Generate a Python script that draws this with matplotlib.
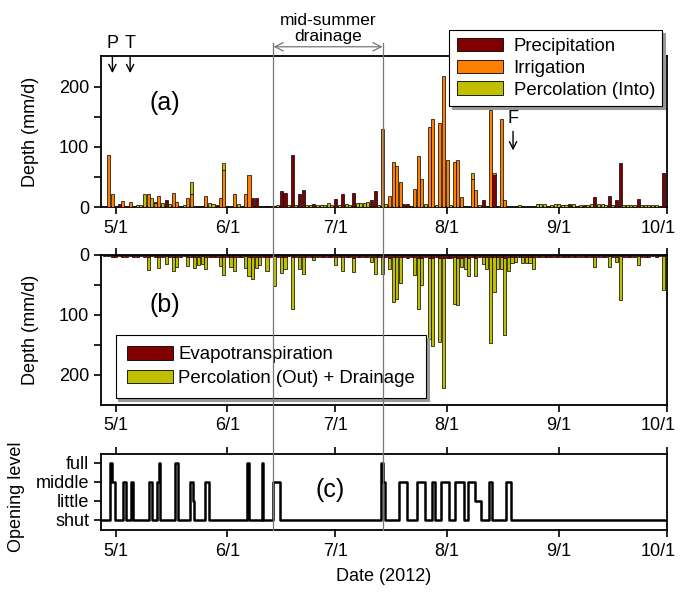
import matplotlib
matplotlib.use("Agg")
import matplotlib.pyplot as plt
import matplotlib.dates as mdates
import matplotlib.transforms as mtransforms
from matplotlib.lines import Line2D
from matplotlib.patches import Patch, FancyArrowPatch
from matplotlib.ticker import FixedLocator, FuncFormatter
import pandas as pd

plt.rcParams["font.family"] = ["Liberation Sans", "DejaVu Sans"]
plt.rcParams["font.size"] = 13

# ---- data ---------------------------------------------------------------
first_day, last_day = "2012-04-28", "2012-09-30"

# panel (a) inputs, mm/d (days not listed are 0)
precipitation = {
    "5/2": 5, "5/15": 12, "5/25": 1, "5/29": 4, "6/8": 15, "6/9": 15, "6/12": 1,
    "6/16": 27, "6/17": 24, "6/19": 86, "6/21": 21, "6/22": 29, "6/25": 5,
    "7/1": 14, "7/3": 21, "7/6": 24, "7/11": 11, "7/12": 27, "7/20": 5, "7/21": 5,
    "8/11": 11, "8/14": 53, "9/4": 5, "9/8": 4, "9/11": 17, "9/15": 18,
    "9/17": 11, "9/18": 73, "9/23": 14, "9/30": 56,
}
irrigation = {
    "4/29": 86, "4/30": 22, "5/3": 10, "5/5": 9, "5/10": 21, "5/12": 6, "5/13": 18,
    "5/17": 23, "5/18": 9, "5/21": 15, "5/22": 22, "5/26": 19, "5/30": 15,
    "5/31": 62, "6/3": 22, "6/6": 21, "6/7": 54, "7/14": 129, "7/16": 19,
    "7/17": 75, "7/18": 69, "7/19": 42, "7/23": 30, "7/24": 85, "7/25": 46,
    "7/27": 133, "7/28": 146, "7/30": 140, "7/31": 218, "8/1": 79, "8/3": 75,
    "8/4": 79, "8/5": 17, "8/8": 47, "8/9": 29, "8/13": 162, "8/14": 4,
    "8/16": 147, "8/17": 12,
}
percolation_in = {
    "5/7": 3, "5/8": 4, "5/9": 22, "5/11": 15, "5/12": 3, "5/14": 6, "5/16": 5,
    "5/20": 3, "5/22": 20, "5/27": 7, "5/28": 5, "5/31": 12, "6/4": 5, "6/13": 2,
    "6/15": 3, "6/18": 3, "6/20": 3, "6/23": 4, "6/24": 3, "6/26": 3, "6/27": 4,
    "6/28": 3, "6/29": 7, "6/30": 3, "7/2": 4, "7/4": 5, "7/5": 3, "7/7": 6,
    "7/8": 6, "7/9": 6, "7/10": 8, "7/13": 3, "7/15": 5, "7/22": 2, "7/26": 5,
    "7/29": 4, "8/2": 4, "8/8": 9, "8/10": 3, "8/21": 4, "8/26": 5, "8/27": 5,
    "8/28": 5, "8/29": 2, "8/30": 4, "8/31": 5, "9/1": 5, "9/2": 3, "9/3": 4,
    "9/5": 5, "9/6": 2, "9/7": 4, "9/9": 3, "9/10": 5, "9/12": 5, "9/13": 5,
    "9/14": 3, "9/16": 3, "9/19": 4, "9/20": 4, "9/21": 4, "9/22": 3, "9/24": 4,
    "9/25": 4, "9/26": 4, "9/27": 4, "9/28": 4, "9/29": 2,
}

# panel (b) outputs, mm/d
evapotranspiration = [
    2, 2, 3,
    3, 2, 3, 3, 2, 3, 3, 2, 3, 3, 2, 3, 3, 3, 2, 3, 3, 3, 3, 2, 3, 3, 3, 3, 2, 3, 3, 4, 3, 3, 3,
    3, 3, 4, 3, 3, 2, 3, 4, 4, 3, 4, 4, 3, 2, 4, 3, 3, 2, 4, 4, 3, 3, 4, 4, 3, 4, 4, 4, 3, 4,
    4, 4, 4, 3, 4, 5, 4, 4, 4, 4, 3, 4, 4, 4, 4, 5, 4, 4, 4, 4, 5, 4, 4, 5, 5, 4, 5, 5, 4, 5, 5,
    5, 5, 4, 5, 5, 4, 5, 4, 5, 4, 4, 4, 4, 4, 4, 4, 5, 4, 4, 4, 4, 4, 4, 4, 4, 4, 3, 4, 4, 3, 4,
    3, 4, 3, 3, 4, 3, 3, 3, 3, 3, 3, 3, 3, 3, 2, 3, 3, 2, 3, 3, 3, 3, 2, 3, 3, 3, 2, 3, 2, 2,
]
percolation_out = {
    "5/10": 22, "5/13": 18, "5/15": 13, "5/17": 24, "5/18": 17, "5/21": 15,
    "5/23": 19, "5/24": 14, "5/25": 13, "5/26": 21, "5/30": 15, "5/31": 30,
    "6/2": 17, "6/3": 22, "6/6": 19, "6/7": 33, "6/8": 36, "6/9": 18, "6/10": 14,
    "6/12": 22, "6/14": 50, "6/16": 27, "6/17": 21, "6/19": 86, "6/21": 20,
    "6/22": 29, "6/25": 5, "7/1": 13, "7/3": 22, "7/6": 24, "7/11": 9, "7/12": 28,
    "7/14": 28, "7/16": 19, "7/17": 75, "7/18": 70, "7/19": 43, "7/23": 30,
    "7/24": 86, "7/25": 46, "7/27": 135, "7/28": 147, "7/30": 140, "7/31": 218,
    "8/3": 78, "8/4": 79, "8/5": 15, "8/6": 19, "8/7": 30, "8/9": 30, "8/11": 11,
    "8/12": 19, "8/13": 143, "8/14": 58, "8/15": 19, "8/16": 19, "8/17": 129,
    "8/18": 22, "8/19": 9, "8/20": 7, "8/22": 9, "8/23": 9, "8/24": 9, "8/25": 19,
    "9/11": 17, "9/15": 18, "9/17": 9, "9/18": 74, "9/23": 14, "9/30": 57,
}

# panel (c) gate opening (0 shut, 1 little, 2 middle, 3 full), step changes
gate_times = [
    "04-26 00", "04-29 10", "04-30 02", "04-30 19", "05-03 02", "05-03 19",
    "05-05 06", "05-05 22", "05-10 07", "05-11 00", "05-12 10", "05-12 22",
    "05-13 10", "05-17 12", "05-18 05", "05-21 14", "05-22 10", "05-22 19",
    "05-25 19", "05-26 19", "06-06 10", "06-07 00", "06-10 12", "06-11 00",
    "06-13 14", "06-15 12", "07-13 17", "07-14 02", "07-14 19",
    "07-18 12", "07-20 19", "07-23 14", "07-25 22", "07-27 19", "07-28 17",
    "07-30 10", "08-01 14", "08-03 05", "08-05 14", "08-06 19", "08-08 19",
    "08-10 12", "08-12 12", "08-13 14", "08-17 07", "08-18 19", "10-02 00",
]
gate_levels = [
    0, 3, 2, 0, 2, 0,
    2, 0, 2, 0, 2, 3,
    0, 3, 0, 2, 1, 0,
    2, 0, 3, 0, 3, 0,
    2, 0, 3, 2, 0,
    2, 0, 2, 0, 2, 0,
    2, 0, 2, 0, 2, 1,
    0, 2, 0, 2, 0, 0,
]
level_names = ["shut", "little", "middle", "full"]

month_ticks = ["2012-05-01", "2012-06-01", "2012-07-01", "2012-08-01",
               "2012-09-01", "2012-10-01"]
drainage = ("2012-06-13 19:00", "2012-07-14 02:00")
events = [("P", "2012-04-30 02:00"), ("T", "2012-05-05 00:00")]
event_f = ("F", "2012-08-19 07:00")

c_prec, c_irr, c_perc = "#800000", "#FF8000", "#BFBF00"

# ---- helpers ------------------------------------------------------------
days = pd.date_range(first_day, last_day, freq="D")
x_left, x_right = pd.Timestamp("2012-04-26 22:00"), pd.Timestamp("2012-10-01")


def daily(values):
    s = pd.Series(0.0, index=days)
    for key, v in values.items():
        m, d = key.split("/")
        s[pd.Timestamp(2012, int(m), int(d))] = v
    return s


def bars(ax, values, bottom, color):
    keep = values > 0
    ax.bar(days[keep], values[keep], bottom=bottom[keep], width=0.85,
           color=color, edgecolor="black", linewidth=0.5, zorder=3)


def style_xaxis(ax, top=False):
    ax.xaxis.set_major_locator(FixedLocator(mdates.date2num(pd.to_datetime(month_ticks))))
    ax.xaxis.set_major_formatter(FuncFormatter(
        lambda x, _: f"{mdates.num2date(x).month}/{mdates.num2date(x).day}"))
    ax.tick_params(axis="x", direction="out", length=5, width=1.2, top=top,
                   labelsize=13, pad=4)
    ax.set_xlim(x_left, x_right)
    for s in ax.spines.values():
        s.set_linewidth(1.3)
    # keep the last label ("10/1") inside the figure
    last = ax.xaxis.get_major_ticks()[-1].label1
    last.set_transform(last.get_transform()
                       + mtransforms.ScaledTranslation(-6 / 72, 0, fig.dpi_scale_trans))


def legend(ax, colors, labels, **kw):
    leg = ax.legend(handles=[Patch(facecolor=c, edgecolor="black", linewidth=0.6)
                             for c in colors],
                    labels=labels, fontsize=13.4, frameon=True, fancybox=False,
                    edgecolor="black", framealpha=1, handlelength=2.5,
                    handleheight=0.75, borderaxespad=0,
                    shadow={"color": "0.6", "alpha": 1}, **kw)
    leg.get_frame().set_linewidth(0.8)
    return leg


fig = plt.figure(figsize=(6.81, 5.92), dpi=100)
ax_a = fig.add_axes([0.1483, 0.6503, 0.831, 0.255])
ax_b = fig.add_axes([0.1483, 0.3159, 0.831, 0.2534])
ax_c = fig.add_axes([0.1483, 0.1047, 0.831, 0.1284])

# ---- panel (a) ----------------------------------------------------------
p = daily(precipitation)
irr = daily(irrigation)
pin = daily(percolation_in)
zero = pd.Series(0.0, index=days)
bars(ax_a, p, zero, c_prec)
bars(ax_a, irr, p, c_irr)
bars(ax_a, pin, p + irr, c_perc)
ax_a.set_ylim(0, 251)
ax_a.set_yticks([0, 100, 200])
ax_a.set_yticks([50, 150], minor=True)
ax_a.tick_params(axis="y", which="both", direction="out", length=5, width=1.2,
                 labelsize=13)
style_xaxis(ax_a)
ax_a.set_ylabel("Depth (mm/d)", fontsize=13)
ax_a.yaxis.set_label_coords(-0.110, 0.5)
ax_a.text(0.113, 0.69, "(a)", transform=ax_a.transAxes, fontsize=18,
          ha="center", va="center")
legend(ax_a, (c_prec, c_irr, c_perc),
       ["Precipitation", "Irrigation", "Percolation (Into)"],
       loc="upper right", bbox_to_anchor=(0.992, 1.172), labelspacing=0.25,
       borderpad=0.4, handletextpad=0.55)

for name, t in events:
    ax_a.annotate(name, xy=(pd.Timestamp(t), 0.887), xytext=(pd.Timestamp(t), 1.08),
                  xycoords=("data", "axes fraction"), textcoords=("data", "axes fraction"),
                  ha="center", va="center", fontsize=13, annotation_clip=False,
                  arrowprops=dict(arrowstyle="->", lw=1.0, color="black",
                                  shrinkA=1, shrinkB=0))
ax_a.annotate(event_f[0], xy=(pd.Timestamp(event_f[1]), 0.375),
              xytext=(pd.Timestamp(event_f[1]), 0.585),
              xycoords=("data", "axes fraction"), textcoords=("data", "axes fraction"),
              ha="center", va="center", fontsize=13,
              arrowprops=dict(arrowstyle="->", lw=1.0, color="black",
                              shrinkA=1, shrinkB=0))

# ---- panel (b) ----------------------------------------------------------
et = pd.Series(evapotranspiration, index=days, dtype=float)
pout = daily(percolation_out)
bars(ax_b, et, zero, c_prec)
bars(ax_b, pout, et, c_perc)
ax_b.set_ylim(251, 0)
ax_b.set_yticks([0, 100, 200])
ax_b.set_yticks([50, 150], minor=True)
ax_b.tick_params(axis="y", which="both", direction="out", length=5, width=1.2,
                 labelsize=13)
style_xaxis(ax_b, top=True)
ax_b.set_ylabel("Depth (mm/d)", fontsize=13)
ax_b.yaxis.set_label_coords(-0.110, 0.5)
ax_b.text(0.113, 0.667, "(b)", transform=ax_b.transAxes, fontsize=18,
          ha="center", va="center")
legend(ax_b, (c_prec, c_perc),
       ["Evapotranspiration", "Percolation (Out) + Drainage"],
       loc="lower left", bbox_to_anchor=(0.026, 0.045), labelspacing=0.35,
       borderpad=0.6, handletextpad=0.25)

# ---- panel (c) ----------------------------------------------------------
gt = pd.to_datetime(["2012-" + t for t in gate_times], format="%Y-%m-%d %H")
ax_c.plot(gt, gate_levels, drawstyle="steps-post", color="black", lw=1.8, zorder=3)
ax_c.set_ylim(-0.53, 3.46)
ax_c.set_yticks(range(4))
ax_c.set_yticklabels(level_names)
ax_c.tick_params(axis="y", direction="out", length=5, width=1.2, labelsize=13)
style_xaxis(ax_c, top=True)
ax_c.set_ylabel("Opening level", fontsize=13)
ax_c.yaxis.set_label_coords(-0.134, 0.44)
ax_c.text(0.405, 0.526, "(c)", transform=ax_c.transAxes, fontsize=18,
          ha="center", va="center")
ax_c.set_xlabel("Date (2012)", fontsize=13, labelpad=6)

# ---- mid-summer drainage marks -----------------------------------------
trans = mtransforms.blended_transform_factory(ax_a.transData, fig.transFigure)
d0, d1 = (mdates.date2num(pd.Timestamp(t)) for t in drainage)
for x in (d0, d1):
    fig.add_artist(Line2D([x, x], [0.1047, 0.928], transform=trans,
                          color="#777777", lw=0.9, zorder=5))
fig.add_artist(FancyArrowPatch((d0, 0.921), (d1, 0.921), transform=trans,
                               arrowstyle="<->,head_length=6,head_width=3",
                               color="#777777", lw=0.9, shrinkA=0, shrinkB=0))
fig.text(0.5 * (d0 + d1), 0.952, "mid-summer\ndrainage", transform=trans,
         ha="center", va="center", fontsize=12.5, linespacing=1.1)

fig.savefig("out.png", dpi=100)
